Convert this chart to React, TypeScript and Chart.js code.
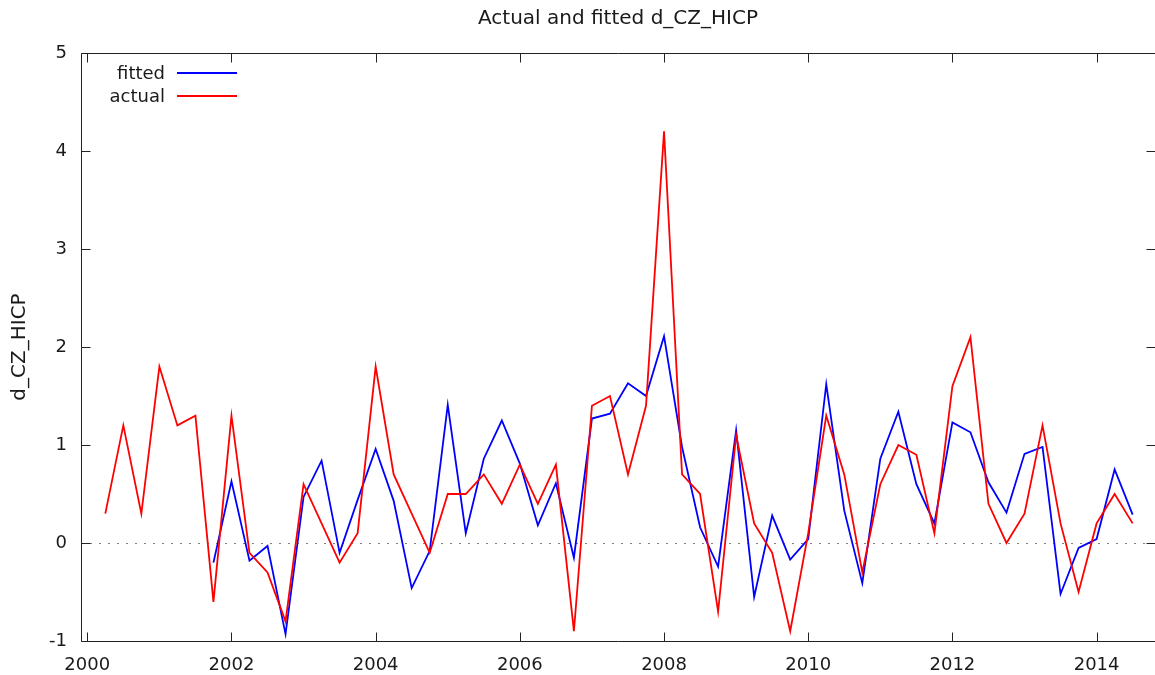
import React, { useEffect, useRef } from "react";
import { Chart, registerables } from "chart.js";

Chart.register(...registerables);

// ---- data ----
const periods: string[] = [
  "2000:2", "2000:3", "2000:4",
  "2001:1", "2001:2", "2001:3", "2001:4",
  "2002:1", "2002:2", "2002:3", "2002:4",
  "2003:1", "2003:2", "2003:3", "2003:4",
  "2004:1", "2004:2", "2004:3", "2004:4",
  "2005:1", "2005:2", "2005:3", "2005:4",
  "2006:1", "2006:2", "2006:3", "2006:4",
  "2007:1", "2007:2", "2007:3", "2007:4",
  "2008:1", "2008:2", "2008:3", "2008:4",
  "2009:1", "2009:2", "2009:3", "2009:4",
  "2010:1", "2010:2", "2010:3", "2010:4",
  "2011:1", "2011:2", "2011:3", "2011:4",
  "2012:1", "2012:2", "2012:3", "2012:4",
  "2013:1", "2013:2", "2013:3", "2013:4",
  "2014:1", "2014:2", "2014:3",
];

const actual: number[] = [
  0.3, 1.2, 0.3,
  1.8, 1.2, 1.3, -0.6,
  1.3, -0.1, -0.3, -0.8,
  0.6, 0.2, -0.2, 0.1,
  1.8, 0.7, 0.3, -0.1,
  0.5, 0.5, 0.7, 0.4,
  0.8, 0.4, 0.8, -0.9,
  1.4, 1.5, 0.7, 1.4,
  4.2, 0.7, 0.5, -0.7,
  1.1, 0.2, -0.1, -0.9,
  0.1, 1.3, 0.7, -0.3,
  0.6, 1.0, 0.9, 0.1,
  1.6, 2.1, 0.4, 0.0,
  0.3, 1.2, 0.2, -0.5,
  0.2, 0.5, 0.2,
];

const fitted: (number | null)[] = [
  null, null, null,
  null, null, null, -0.2,
  0.63, -0.18, -0.03, -0.93,
  0.47, 0.84, -0.1, 0.44,
  0.96, 0.43, -0.46, -0.08,
  1.41, 0.1, 0.86, 1.25,
  0.81, 0.18, 0.61, -0.15,
  1.27, 1.32, 1.63, 1.5,
  2.11, 0.98, 0.16, -0.24,
  1.15, -0.55, 0.28, -0.17,
  0.04, 1.62, 0.33, -0.41,
  0.86, 1.34, 0.6, 0.2,
  1.23, 1.13, 0.62, 0.31,
  0.91, 0.98, -0.52, -0.05,
  0.04, 0.75, 0.29,
];

const xTicks: number[] = [2000, 2002, 2004, 2006, 2008, 2010, 2012, 2014];
const yTicks: number[] = [-1, 0, 1, 2, 3, 4, 5];

const seriesNames = { fitted: "fitted", actual: "actual" };
const titleText = "Actual and fitted d_CZ_HICP";
const yLabel = "d_CZ_HICP";

const FONT = "'DejaVu Sans', Verdana, sans-serif";
const TEXT = "#1a1a1a";
const BLUE = "#0000ff";
const RED = "#ff0000";

const toYear = (p: string) => {
  const [y, q] = p.split(":").map(Number);
  return y + (q - 1) / 4;
};

const gnuplotFrame = {
  id: "gnuplotFrame",
  beforeDatasetsDraw(chart: any) {
    const { ctx, chartArea: a, scales } = chart;
    const y0 = Math.round(scales.y.getPixelForValue(0)) + 0.5;
    ctx.save();
    ctx.strokeStyle = "#808080";
    ctx.lineWidth = 1;
    ctx.setLineDash([2, 7]);
    ctx.beginPath();
    ctx.moveTo(a.left, y0);
    ctx.lineTo(a.right, y0);
    ctx.stroke();
    ctx.restore();
  },
  afterDraw(chart: any) {
    const { ctx, chartArea: a, scales } = chart;
    const L = Math.round(a.left) + 0.5;
    const R = Math.round(a.right) + 0.5;
    const T = Math.round(a.top) + 0.5;
    const B = Math.round(a.bottom) + 0.5;
    ctx.save();
    ctx.strokeStyle = "#222";
    ctx.lineWidth = 1;
    ctx.setLineDash([]);
    ctx.beginPath();
    ctx.moveTo(L, T);
    ctx.lineTo(R, T);
    ctx.moveTo(L, T);
    ctx.lineTo(L, B);
    ctx.lineTo(R, B);
    ctx.lineTo(R, T);
    const tl = 9;
    xTicks.forEach((v) => {
      const px = Math.round(scales.x.getPixelForValue(v)) + 0.5;
      ctx.moveTo(px, B);
      ctx.lineTo(px, B - tl);
      ctx.moveTo(px, T);
      ctx.lineTo(px, T + tl);
    });
    yTicks.forEach((v) => {
      const py = Math.round(scales.y.getPixelForValue(v)) + 0.5;
      ctx.moveTo(L, py);
      ctx.lineTo(L + tl, py);
      ctx.moveTo(R, py);
      ctx.lineTo(R - tl, py);
    });
    ctx.stroke();

    // legend (gnuplot style, inside top-left)
    const items = [
      { label: seriesNames.fitted, color: BLUE },
      { label: seriesNames.actual, color: RED },
    ];
    ctx.font = `18px ${FONT}`;
    ctx.textAlign = "right";
    ctx.textBaseline = "middle";
    items.forEach((it, i) => {
      const cy = a.top + 21 + i * 23;
      ctx.fillStyle = TEXT;
      ctx.fillText(it.label, a.left + 84, cy);
      ctx.strokeStyle = it.color;
      ctx.lineWidth = 1.8;
      ctx.beginPath();
      ctx.moveTo(a.left + 96, cy - 1);
      ctx.lineTo(a.left + 156, cy - 1);
      ctx.stroke();
    });
    ctx.restore();
  },
};

export default function App() {
  const ref = useRef<HTMLCanvasElement | null>(null);

  useEffect(() => {
    document.body.style.margin = "0";
    const canvas = ref.current;
    if (!canvas) return;
    const xs = periods.map(toYear);
    const chart = new Chart(canvas, {
      type: "line",
      data: {
        datasets: [
          {
            label: seriesNames.fitted,
            data: xs.map((x, i) => ({ x, y: fitted[i] })) as any,
            borderColor: BLUE,
            borderWidth: 1.8,
            pointRadius: 0,
            fill: false,
            tension: 0,
            spanGaps: false,
            order: 1,
          },
          {
            label: seriesNames.actual,
            data: xs.map((x, i) => ({ x, y: actual[i] })) as any,
            borderColor: RED,
            borderWidth: 1.8,
            pointRadius: 0,
            fill: false,
            tension: 0,
            order: 0,
          },
        ],
      },
      options: {
        animation: false,
        responsive: false,
        maintainAspectRatio: false,
        layout: { padding: 0 },
        plugins: {
          legend: { display: false },
          tooltip: { enabled: false },
          title: {
            display: true,
            text: titleText,
            fullSize: false,
            color: TEXT,
            font: { family: FONT, size: 20, weight: "normal" as any },
            padding: { top: 7, bottom: 22 },
          },
        },
        scales: {
          x: {
            type: "linear",
            min: 1999.913,
            max: 2014.81,
            grid: { display: false, drawTicks: false },
            border: { display: false },
            afterBuildTicks: (s: any) => {
              s.ticks = xTicks.map((v) => ({ value: v }));
            },
            afterFit: (s: any) => {
              s.height = 34;
            },
            ticks: {
              autoSkip: false,
              maxRotation: 0,
              padding: 14,
              color: TEXT,
              font: { family: FONT, size: 18 },
              callback: (v: any) => String(v),
            },
          },
          y: {
            type: "linear",
            min: -1,
            max: 5,
            grid: { display: false, drawTicks: false },
            border: { display: false },
            afterBuildTicks: (s: any) => {
              s.ticks = yTicks.map((v) => ({ value: v }));
            },
            afterFit: (s: any) => {
              s.width = 81;
            },
            ticks: {
              padding: 14,
              color: TEXT,
              font: { family: FONT, size: 18 },
              callback: (v: any) => String(v),
            },
            title: {
              display: true,
              text: yLabel,
              color: TEXT,
              font: { family: FONT, size: 20 },
              padding: { top: 8, bottom: 0 },
            },
          },
        },
      },
      plugins: [gnuplotFrame],
    });
    return () => chart.destroy();
  }, []);

  return (
    <div style={{ width: 1155, height: 675 }}>
      <canvas ref={ref} width={1155} height={675} style={{ display: "block" }} />
    </div>
  );
}
